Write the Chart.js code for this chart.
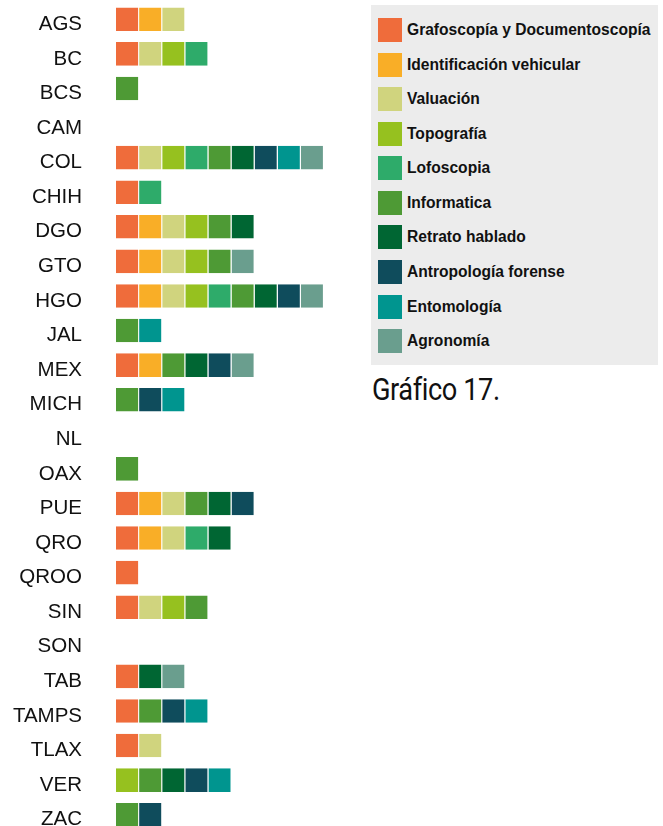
<!DOCTYPE html>
<html>
<head>
<meta charset="utf-8">
<script src="https://cdn.jsdelivr.net/npm/chart.js@4"></script>
<style>
  html, body { margin: 0; padding: 0; background: #fff; overflow: hidden; width: 663px; height: 826px; }
  #myChart { position: absolute; left: 0; top: 0; }
  #legend {
    position: absolute; left: 371px; top: 5px; width: 287px; height: 360px;
    background: #ececec; box-sizing: border-box; padding-top: 13px;
  }
  .item { height: 34.58px; display: flex; align-items: flex-start; margin-left: 7px; }
  .box { width: 24px; height: 24px; flex: none; }
  .item span {
    margin-left: 5px; font: bold 15.6px "Liberation Sans", Arial, sans-serif; color: #111;
    line-height: 24px; white-space: nowrap;
  }
  #title {
    position: absolute; left: 372px; top: 370px; font: 32px Roboto, sans-serif; color: #111;
    transform: scaleX(0.85); transform-origin: left top; white-space: nowrap; letter-spacing: -0.5px;
  }
</style>
</head>
<body>
<canvas id="myChart" width="347" height="832"></canvas>
<div id="legend"></div>
<div id="title">Gráfico 17.</div>
<script>
const estados = ["AGS", "BC", "BCS", "CAM", "COL", "CHIH", "DGO", "GTO", "HGO", "JAL", "MEX", "MICH",
  "NL", "OAX", "PUE", "QRO", "QROO", "SIN", "SON", "TAB", "TAMPS", "TLAX", "VER", "ZAC"];

// 1 = el estado cuenta con la especialidad
//                      AGS BC BCS CAM COL CHIH DGO GTO HGO JAL MEX MICH NL OAX PUE QRO QROO SIN SON TAB TAMPS TLAX VER ZAC
const grafoscopia    = [1, 1, 0, 0, 1, 1, 1, 1, 1, 0, 1, 0, 0, 0, 1, 1, 1, 1, 0, 1, 1, 1, 0, 0];
const identificacion = [1, 0, 0, 0, 0, 0, 1, 1, 1, 0, 1, 0, 0, 0, 1, 1, 0, 0, 0, 0, 0, 0, 0, 0];
const valuacion      = [1, 1, 0, 0, 1, 0, 1, 1, 1, 0, 0, 0, 0, 0, 1, 1, 0, 1, 0, 0, 0, 1, 0, 0];
const topografia     = [0, 1, 0, 0, 1, 0, 1, 1, 1, 0, 0, 0, 0, 0, 0, 0, 0, 1, 0, 0, 0, 0, 1, 0];
const lofoscopia     = [0, 1, 0, 0, 1, 1, 0, 0, 1, 0, 0, 0, 0, 0, 0, 1, 0, 0, 0, 0, 0, 0, 0, 0];
const informatica    = [0, 0, 1, 0, 1, 0, 1, 1, 1, 1, 1, 1, 0, 1, 1, 0, 0, 1, 0, 0, 1, 0, 1, 1];
const retrato        = [0, 0, 0, 0, 1, 0, 1, 0, 1, 0, 1, 0, 0, 0, 1, 1, 0, 0, 0, 1, 0, 0, 1, 0];
const antropologia   = [0, 0, 0, 0, 1, 0, 0, 0, 1, 0, 1, 1, 0, 0, 1, 0, 0, 0, 0, 0, 1, 0, 1, 1];
const entomologia    = [0, 0, 0, 0, 1, 0, 0, 0, 0, 1, 0, 1, 0, 0, 0, 0, 0, 0, 0, 0, 1, 0, 1, 0];
const agronomia      = [0, 0, 0, 0, 1, 0, 0, 1, 1, 0, 1, 0, 0, 0, 0, 0, 0, 0, 0, 1, 0, 0, 0, 0];

const especialidades = ["Grafoscopía y Documentoscopía", "Identificación vehicular", "Valuación",
  "Topografía", "Lofoscopia", "Informatica", "Retrato hablado", "Antropología forense",
  "Entomología", "Agronomía"];
const series = [grafoscopia, identificacion, valuacion, topografia, lofoscopia, informatica,
  retrato, antropologia, entomologia, agronomia];
const colores = ["#ef6c3b", "#f9ae27", "#d0d47e", "#96c11f", "#2eab6a", "#4e9a35",
  "#006633", "#0f4c5c", "#00958f", "#6a9e8e"];

const datasets = especialidades.map((nombre, i) => ({
  label: nombre,
  data: series[i].map(v => v ? v : null),
  backgroundColor: colores[i],
  borderColor: "#ffffff",
  borderWidth: { top: 0, right: 1, bottom: 0, left: 0 },
  categoryPercentage: 1,
  barPercentage: 0.68
}));

const ctx = document.getElementById("myChart").getContext("2d");
new Chart(ctx, {
  type: "bar",
  data: { labels: estados, datasets: datasets },
  options: {
    indexAxis: "y",
    responsive: false,
    animation: false,
    layout: { padding: { top: 2, right: 0, bottom: 0, left: 0 } },
    plugins: { legend: { display: false }, tooltip: { enabled: false } },
    scales: {
      x: { stacked: true, display: false, min: 0, max: 10 },
      y: {
        stacked: true,
        grid: { display: false, drawTicks: false },
        border: { display: false },
        ticks: {
          padding: 34,
          labelOffset: 5,
          color: "#111",
          font: { family: "'Liberation Sans', Arial, sans-serif", size: 20.5 }
        },
        afterFit: scale => {
          scale.width = 116;
          scale.paddingTop = 0;
          scale.paddingBottom = 0;
        }
      }
    }
  }
});

// leyenda
const legend = document.getElementById("legend");
especialidades.forEach((nombre, i) => {
  const row = document.createElement("div");
  row.className = "item";
  row.innerHTML = '<div class="box" style="background:' + colores[i] + '"></div><span>' + nombre + '</span>';
  legend.appendChild(row);
});
</script>
</body>
</html>
